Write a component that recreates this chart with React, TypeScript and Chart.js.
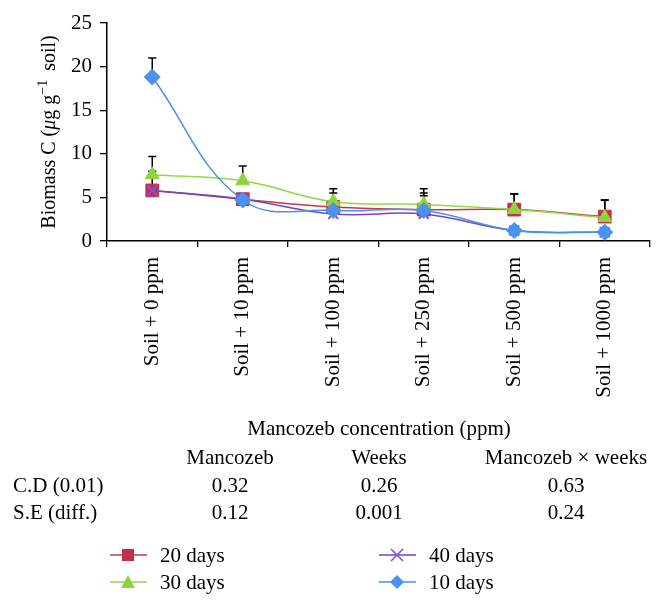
import React, { useEffect, useRef } from "react";
import { Chart, registerables } from "chart.js";

Chart.register(...registerables);

// ---- data ----
const categories = [
  "Soil + 0 ppm",
  "Soil + 10 ppm",
  "Soil + 100 ppm",
  "Soil + 250 ppm",
  "Soil + 500 ppm",
  "Soil + 1000 ppm",
];
const days20 = [5.8, 4.8, 3.9, 3.6, 3.6, 2.8];
const days30 = [7.6, 6.9, 4.5, 4.2, 3.6, 2.7];
const days40 = [5.8, 4.8, 3.1, 3.1, 1.2, 1.0];
const days10 = [18.8, 4.7, 3.5, 3.5, 1.2, 1.0];

const err20 = [2.2, 0.5, 1.6, 1.9, 1.8, 1.9];
const err30 = [2.1, 1.7, 1.5, 1.8, 1.8, 2.0];
const err40 = [0.5, 0.5, 0.4, 2.1, 0.3, 0.3];
const err10 = [2.2, 0.5, 0.4, 0.5, 0.3, 0.3];

const yMin = 0;
const yMax = 25;
const yStep = 5;

const xTitle = "Mancozeb concentration (ppm)";
const tableHeaders = ["Mancozeb", "Weeks", "Mancozeb \u00d7 weeks"];
const tableRowLabels = ["C.D (0.01)", "S.E (diff.)"];
const cdValues = ["0.32", "0.26", "0.63"];
const seValues = ["0.12", "0.001", "0.24"];

const seriesNames = ["20 days", "30 days", "40 days", "10 days"];

const FONT = "'Liberation Serif', 'Times New Roman', serif";

const COL = {
  red: "#BF3050",
  redLine: "#C03A4A",
  green: "#8FD43C",
  greenLine: "#93D84A",
  purple: "#7D52D8",
  purpleLine: "#7245C8",
  blue: "#4B92EE",
  blueLine: "#4A90E6",
};

const series = [
  { name: seriesNames[0], values: days20, err: err20, order: 3, style: "rect", radius: 9, fill: COL.red, line: COL.redLine },
  { name: seriesNames[1], values: days30, err: err30, order: 1, style: "triangle", radius: 8, fill: COL.green, line: COL.greenLine },
  { name: seriesNames[2], values: days40, err: err40, order: 2, style: "crossRot", radius: 7, fill: COL.purple, line: COL.purpleLine },
  { name: seriesNames[3], values: days10, err: err10, order: 0, style: "rectRot", radius: 8, fill: COL.blue, line: COL.blueLine },
];

function LegendIcon({ kind, color, line }: { kind: string; color: string; line: string }) {
  let marker: any = null;
  if (kind === "rect") marker = <rect x={12} y={2} width={12} height={12} fill={color} />;
  if (kind === "triangle") marker = <polygon points="18,1 25,14 11,14" fill={color} />;
  if (kind === "crossRot")
    marker = (
      <g stroke={color} strokeWidth={1.6}>
        <line x1={12} y1={2} x2={24} y2={14} />
        <line x1={24} y1={2} x2={12} y2={14} />
      </g>
    );
  if (kind === "rectRot") marker = <polygon points="18,1 25,8 18,15 11,8" fill={color} />;
  return (
    <svg width={37} height={16} style={{ display: "block" }}>
      <line x1={0} y1={8} x2={37} y2={8} stroke={line} strokeWidth={1.6} />
      {marker}
    </svg>
  );
}

export default function App() {
  const ref = useRef<HTMLCanvasElement>(null);

  useEffect(() => {
    if (!ref.current) return;

    const errorBars = {
      id: "errorBars",
      beforeDatasetsDraw(chart: any) {
        const ctx = chart.ctx;
        const xs = chart.scales.x;
        const ys = chart.scales.y;
        ctx.save();
        ctx.strokeStyle = "#000";
        ctx.lineWidth = 1.5;
        series.forEach((s) => {
          s.values.forEach((v, i) => {
            const e = s.err[i];
            if (!e) return;
            const px = xs.getPixelForValue(i);
            const y0 = ys.getPixelForValue(v);
            const y1 = ys.getPixelForValue(v + e);
            ctx.beginPath();
            ctx.moveTo(px, y0);
            ctx.lineTo(px, y1);
            ctx.moveTo(px - 4, y1);
            ctx.lineTo(px + 4, y1);
            ctx.stroke();
          });
        });
        ctx.restore();
      },
    };

    const yTitle = {
      id: "yTitle",
      afterDraw(chart: any) {
        const ctx = chart.ctx;
        const area = chart.chartArea;
        const cy = (area.top + area.bottom) / 2;
        const size = 20;
        const parts: [string, string, number][] = [
          ["Biomass C (", `${size}px ${FONT}`, 0],
          ["\u03bc", `italic ${size}px ${FONT}`, 0],
          ["g g", `${size}px ${FONT}`, 0],
          ["\u22121", `${Math.round(size * 0.68)}px ${FONT}`, -size * 0.42],
          ["\u2009 soil)", `${size}px ${FONT}`, 0],
        ];
        ctx.save();
        let total = 0;
        const widths = parts.map(([t, f]) => {
          ctx.font = f;
          const w = ctx.measureText(t).width;
          total += w;
          return w;
        });
        ctx.translate(55, cy);
        ctx.rotate(-Math.PI / 2);
        ctx.fillStyle = "#000";
        ctx.textBaseline = "alphabetic";
        ctx.textAlign = "left";
        let x = -total / 2;
        parts.forEach(([t, f, dy], i) => {
          ctx.font = f;
          ctx.fillText(t, x, dy);
          x += widths[i];
        });
        ctx.restore();
      },
    };

    const chart = new Chart(ref.current, {
      type: "line",
      data: {
        labels: categories,
        datasets: series.map((s) => ({
          label: s.name,
          data: s.values,
          order: s.order,
          borderColor: s.line,
          borderWidth: 1.5,
          tension: 0.4,
          fill: false,
          pointStyle: s.style as any,
          pointRadius: s.radius,
          pointHoverRadius: s.radius,
          pointBackgroundColor: s.fill,
          pointBorderColor: s.fill,
          pointBorderWidth: s.style === "crossRot" ? 2 : 1,
        })),
      },
      options: {
        responsive: false,
        animation: false,
        devicePixelRatio: 1,
        layout: { padding: { top: 23, right: 16, left: 0, bottom: 0 } },
        plugins: {
          legend: { display: false },
          tooltip: { enabled: false },
          title: { display: false },
        },
        scales: {
          x: {
            type: "category",
            offset: true,
            grid: {
              offset: true,
              drawOnChartArea: false,
              color: "#000",
              tickLength: 6,
              lineWidth: 1.3,
            },
            border: { color: "#000", width: 1.5 },
            ticks: {
              autoSkip: false,
              minRotation: 90,
              maxRotation: 90,
              padding: 10,
              color: "#000",
              font: { family: FONT, size: 21 },
            },
            afterFit: (s: any) => {
              s.height = 607 - 241;
            },
          },
          y: {
            min: yMin,
            max: yMax,
            ticks: {
              stepSize: yStep,
              padding: 8,
              color: "#000",
              font: { family: FONT, size: 21 },
            },
            grid: {
              drawOnChartArea: false,
              color: "#000",
              tickLength: 7,
              lineWidth: 1.3,
            },
            border: { color: "#000", width: 1.5 },
            afterFit: (s: any) => {
              s.width = 107;
            },
          },
        },
      },
      plugins: [errorBars, yTitle],
    });

    return () => chart.destroy();
  }, []);

  const text = (content: string, x: number, y: number, align: "center" | "left", size = 21) => (
    <div
      style={{
        position: "absolute",
        left: x,
        top: y,
        transform: align === "center" ? "translate(-50%, -50%)" : "translate(0, -50%)",
        fontFamily: FONT,
        fontSize: size,
        lineHeight: 1,
        whiteSpace: "nowrap",
        color: "#000",
      }}
    >
      {content}
    </div>
  );

  const colX = [230, 379, 566];

  return (
    <div
      style={{
        position: "fixed",
        left: 0,
        top: 0,
        width: 666,
        height: 607,
        background: "#fff",
        overflow: "hidden",
      }}
    >
      <canvas
        ref={ref}
        width={666}
        height={607}
        style={{ position: "absolute", left: 0, top: 0, width: 666, height: 607 }}
      />
      {text(xTitle, 379, 428, "center")}
      {tableHeaders.map((h, i) => text(h, colX[i], 457, "center"))}
      {text(tableRowLabels[0], 13, 485, "left")}
      {text(tableRowLabels[1], 13, 512, "left")}
      {cdValues.map((v, i) => text(v, colX[i], 485, "center"))}
      {seValues.map((v, i) => text(v, colX[i], 512, "center"))}

      {[
        { s: series[0], x: 110, y: 555 },
        { s: series[1], x: 110, y: 582 },
        { s: series[2], x: 379, y: 555 },
        { s: series[3], x: 379, y: 582 },
      ].map(({ s, x, y }) => (
        <React.Fragment key={s.name}>
          <div style={{ position: "absolute", left: x, top: y - 8 }}>
            <LegendIcon kind={s.style} color={s.fill} line={s.line} />
          </div>
          {text(s.name, x + 50, y, "left")}
        </React.Fragment>
      ))}
    </div>
  );
}
